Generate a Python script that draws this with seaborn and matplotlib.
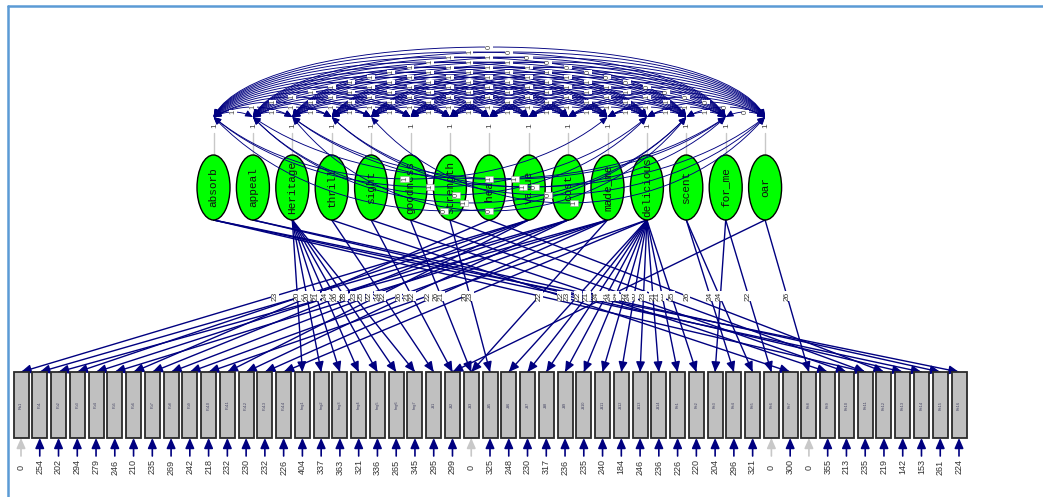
import numpy as np
import pandas as pd
import seaborn as sns
import matplotlib.pyplot as plt
from matplotlib.patches import Ellipse, Rectangle, FancyArrowPatch
from matplotlib.path import Path

# latent factors, left to right
factors = ["absorb", "appeal", "Heritage", "thrill", "sight", "goodness", "strength",
           "heat", "value", "cost", "made_me", "delicious", "scent", "for_me", "oar"]
factor_variance = [1, 1, 1, 1, 1, 1, 1, 1, 1, 1, 1, 1, 1, 1, 1]

# factor covariances, upper triangle (row i -> factors i+1 .. 14)
cov_rows = [
    "11111111111110",
    "1111111111110",
    "111111111110",
    "11111111110",
    "1111111110",
    "111111110",
    "11111110",
    "1111110",
    "111110",
    "11110",
    "1110",
    "110",
    "10",
    "0",
]
# covariances drawn below the variance nodes
cov_below_pairs = [(0, 10), (0, 11), (1, 11), (1, 12), (2, 12), (2, 13),
                   (3, 13), (3, 14), (4, 14), (0, 12), (1, 13), (2, 14)]
cov_below_values = [1, 1, 0, 1, 0, 1, 1, 0, 1, 0, 1, 0]

# observed indicators
indicators = ["Ru1", "Pu1", "Pu2", "Pu3", "Pu4", "Pu5", "Pu6", "Pu7", "Pu8", "Pu9",
              "Pu10", "Pu11", "Pu12", "Pu13", "Pu14",
              "Img1", "Img2", "Img3", "Img4", "Img5", "Img6", "Img7",
              "Jd1", "Jd2", "Jd3", "Jd5", "Jd6", "Jd7", "Jd8", "Jd9", "Jd10",
              "Jd11", "Jd12", "Jd13", "Jd14",
              "Pe1", "Pe2", "Pe3", "Pe4", "Pe5", "Pe6", "Pe7", "Pe8", "Pe9", "Pe10",
              "Pe11", "Pe12", "Pe13", "Pe14", "Pe15", "Pe16"]
error_var = [0, 254, 202, 294, 279, 246, 210, 235, 269, 242, 218, 232, 230, 232, 226,
             404, 337, 363, 321, 336, 265, 345,
             295, 299, 0, 325, 248, 230, 317, 236, 235, 240, 184, 246, 236,
             226, 220, 204, 296, 321, 0, 300, 0, 355, 213, 235, 219, 142, 153, 261, 224]
indicator_factor = [8, 9, 10, 8, 9, 10, 7, 8, 9, 10, 11, 8, 9, 10, 11,
                    2, 2, 2, 2, 2, 2, 2,
                    3, 4, 5, 6, 11, 11, 11, 11, 11, 11, 11, 11, 11,
                    11, 11, 13, 12, 12, 13, 3, 14, 4, 5, 6, 7, 1, 0, 1, 0]
loadings = [23, 22, 24, 21, 23, 25, 24, 22, 22, 26, 22, 24, 21, 26, 20,
            20, 20, 21, 24, 26, 28, 23,
            22, 22, 21, 23, 22, 24, 22, 21, 24, 22, 20, 23, 21,
            23, 25, 25, 24, 24, 22, 22, 26, 22, 24, 21, 26, 22, 23, 24, 21]
cross_loadings = [(14, 23, 24), (10, 24, 23), (0, 45, 22)]

navy = "#000080"
gray_line = "#c8c8c8"
num_color = "#333333"

W, H = 1043, 497
box_x0, box_dx, box_w, box_top, box_bot = 21, 18.76, 15, 372, 438
fac_x0, fac_dx, ell_w, ell_h, ell_cy = 213.5, 39.4, 33, 65, 187.5
node_y = 117

sns.set_theme(style="white")
plt.rcParams["font.family"] = ["Liberation Sans", "DejaVu Sans"]

fig = plt.figure(figsize=(W / 100, H / 100), dpi=100)
ax = fig.add_axes([0, 0, 1, 1])

fx = [fac_x0 + fac_dx * i for i in range(len(factors))]
bx = [box_x0 + box_dx * k for k in range(len(indicators))]


def bezier(p0, p1, p2, p3, n=40):
    t = np.linspace(0, 1, n)[:, None]
    p0, p1, p2, p3 = map(np.array, (p0, p1, p2, p3))
    return ((1 - t) ** 3 * p0 + 3 * (1 - t) ** 2 * t * p1
            + 3 * (1 - t) * t ** 2 * p2 + t ** 3 * p3)


def two_head(pts, z=2):
    arr = FancyArrowPatch(path=Path(pts), arrowstyle="<|-|>,head_length=0.45,head_width=0.2",
                          mutation_scale=10, color=navy, lw=0.65, zorder=z)
    ax.add_patch(arr)


# covariance arcs above the nodes
for i, row in enumerate(cov_rows):
    for k, val in enumerate(row):
        j = i + 1 + k
        span = j - i
        h = 5.0 * span
        dx = fx[j] - fx[i]
        a = min(0.3 * dx, 45)
        pts = bezier((fx[i], node_y), (fx[i] + a, node_y - h * 4 / 3),
                     (fx[j] - a, node_y - h * 4 / 3), (fx[j], node_y))
        two_head(pts)
        ax.text((fx[i] + fx[j]) / 2, node_y - h, val, rotation=90, fontsize=5.5,
                color="#444444", ha="center", va="center", zorder=4,
                bbox=dict(fc="white", ec="none", pad=0.2))

# variance stubs and labels
for i, x in enumerate(fx):
    ax.plot([x, x], [133, ell_cy - ell_h / 2], color=gray_line, lw=1, zorder=1)
    ax.text(x + 1, 126, factor_variance[i], rotation=90, fontsize=6, color="#444444",
            ha="center", va="center", zorder=4)

# latent ellipses
for i, name in enumerate(factors):
    ax.add_patch(Ellipse((fx[i], ell_cy), ell_w, ell_h, fc="#00ff00", ec="black",
                         lw=1.0, zorder=3))
    ax.text(fx[i], ell_cy, name, rotation=90, fontsize=8, family="Liberation Mono",
            ha="center", va="center", color="#111111", zorder=3.5)

# covariance arcs bending down through the factor row
for n, ((i, j), val) in enumerate(zip(cov_below_pairs, cov_below_values)):
    d = 62 + 8 * (n % 5)
    dx = fx[j] - fx[i]
    pts = bezier((fx[i], node_y), (fx[i] + 0.25 * dx, node_y + d * 4 / 3),
                 (fx[j] - 0.25 * dx, node_y + d * 4 / 3), (fx[j], node_y))
    two_head(pts, z=3.6)
    ax.text((fx[i] + fx[j]) / 2 + 6 * (n % 3 - 1), node_y + d, val, rotation=90,
            fontsize=5.5, color="#444444", ha="center", va="center", zorder=4,
            bbox=dict(fc="white", ec="#999999", lw=0.4, pad=0.4))

# factor loadings
paths = [(f, k, v) for k, (f, v) in enumerate(zip(indicator_factor, loadings))] + cross_loadings
rows = []
for p, (f, k, v) in enumerate(paths):
    rows.append({"path": p, "x": fx[f], "y": ell_cy + ell_h / 2})
    rows.append({"path": p, "x": bx[k], "y": box_top})
seg = pd.DataFrame(rows)
sns.lineplot(data=seg, x="x", y="y", units="path", estimator=None, sort=False,
             color=navy, lw=1.0, ax=ax, legend=False, zorder=2)
for f, k, v in paths:
    x0, y0, x1, y1 = fx[f], ell_cy + ell_h / 2, bx[k], box_top
    L = np.hypot(x1 - x0, y1 - y0)
    ux, uy = (x1 - x0) / L, (y1 - y0) / L
    ax.annotate("", xy=(x1, y1), xytext=(x1 - ux * 8, y1 - uy * 8),
                arrowprops=dict(arrowstyle="-|>,head_length=0.5,head_width=0.22",
                                color=navy, lw=1.0, shrinkA=0, shrinkB=0,
                                mutation_scale=12), zorder=2)
    ax.text((x0 + x1) / 2, (y0 + y1) / 2, v, rotation=90, fontsize=6,
            color=num_color, ha="center", va="center", zorder=4,
            bbox=dict(fc="white", ec="none", pad=0.2))

# indicator boxes, residual arrows and values
for k, name in enumerate(indicators):
    ax.add_patch(Rectangle((bx[k] - box_w / 2, box_top), box_w, box_bot - box_top,
                           fc="#c0c0c0", ec="#2a2a2a", lw=1.3, zorder=3))
    ax.text(bx[k], (box_top + box_bot) / 2, name, rotation=90, fontsize=2.8,
            color="#404060", ha="center", va="center", zorder=4)
    c = gray_line if error_var[k] == 0 else navy
    ax.annotate("", xy=(bx[k], box_bot), xytext=(bx[k], 456),
                arrowprops=dict(arrowstyle="-|>,head_length=0.5,head_width=0.22",
                                color=c, lw=1.2, shrinkA=0, shrinkB=0,
                                mutation_scale=12), zorder=2)
    ax.text(bx[k], 467, error_var[k], rotation=90, fontsize=6.5, color=num_color,
            ha="center", va="center")

# frame lines of the screenshot
ax.plot([8, 8], [6, H], color="#5b9bd5", lw=1.8)
ax.plot([8, W], [6, 6], color="#5b9bd5", lw=1.8)

ax.set_xlim(0, W)
ax.set_ylim(H, 0)
ax.axis("off")
fig.savefig("out.png", dpi=100)
